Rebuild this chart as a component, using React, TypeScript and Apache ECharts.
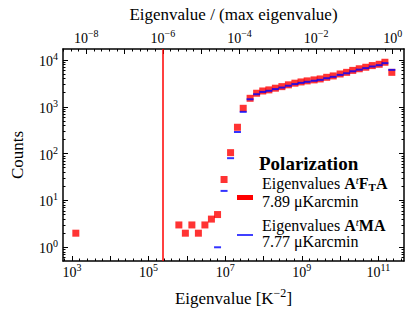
import React, { useEffect, useRef } from 'react';
import * as echarts from 'echarts';

// ---- data ----
// log10 of bin-centre eigenvalue [K^-2] and counts for A^t F_T A (red squares)
const redLog10Eigen = [3.10, 5.79, 5.96, 6.13, 6.30, 6.47, 6.64, 6.80, 6.97, 7.14, 7.32, 7.47, 7.65, 7.82, 7.98, 8.14, 8.31, 8.48, 8.65, 8.82, 8.98, 9.14, 9.32, 9.48, 9.65, 9.82, 10.00, 10.17, 10.33, 10.50, 10.67, 10.84, 11.02, 11.17, 11.35];
const redCounts = [2, 3, 2, 3, 2, 3, 4, 5, 28, 105, 366, 930, 1520, 1950, 2180, 2300, 2500, 2700, 2950, 3200, 3400, 3580, 3760, 3940, 4270, 4570, 5030, 5450, 6000, 6500, 7000, 7600, 8100, 8950, 5450];
// A^t M A (blue dashes)
const blueLog10Eigen = [6.80, 6.97, 7.14, 7.32, 7.47, 7.65, 7.82, 7.98, 8.14, 8.31, 8.48, 8.65, 8.82, 8.98, 9.14, 9.32, 9.48, 9.65, 9.82, 10.00, 10.17, 10.33, 10.50, 10.67, 10.84, 11.02, 11.17, 11.35];
const blueCounts = [1, 16, 80, 290, 780, 1450, 1860, 2080, 2200, 2390, 2580, 2820, 3060, 3250, 3420, 3600, 3770, 4080, 4370, 4810, 5210, 5740, 6220, 6700, 7270, 7750, 8560, 6150];

const maxEigenvalue = 2.36e11;
const cutoffRatio = 1e-6;

const bottomLabelExps = [3, 5, 7, 9, 11];
const topLabelExps = [-8, -6, -4, -2, 0];
const leftLabelExps = [0, 1, 2, 3, 4];

const legendTitle = 'Polarization';
const legendNoise = ['7.89 μKarcmin', '7.77 μKarcmin'];

// axis ranges (log10)
const X_MIN_EXP = 2.765;
const X_MAX_EXP = 11.668;
const Y_MIN_EXP = -0.293;
const Y_MAX_EXP = 4.235;

const SERIF = 'Liberation Serif, serif';
const AXF = 'Liberation Serif';

const pow10 = (e: number) => Math.pow(10, e);
const expStr = (e: number) => (e < 0 ? '\u2212' + -e : String(e));

function intExps(lo: number, hi: number) {
  const out: number[] = [];
  for (let e = Math.ceil(lo); e <= Math.floor(hi); e++) out.push(e);
  return out;
}
function fifthDecadeMinor(lo: number, hi: number) {
  const out: number[] = [];
  for (let k = Math.ceil(lo * 5); k <= Math.floor(hi * 5); k++) {
    if (k % 5 !== 0) out.push(pow10(k / 5));
  }
  return out;
}
function logMinor(lo: number, hi: number) {
  const out: number[] = [];
  for (let e = Math.floor(lo); e <= Math.ceil(hi); e++) {
    for (let m = 2; m <= 9; m++) {
      const v = m * pow10(e);
      if (Math.log10(v) > lo && Math.log10(v) < hi) out.push(v);
    }
  }
  return out;
}

const powRich = {
  b: { fontFamily: AXF, fontSize: 14, color: '#000', verticalAlign: 'bottom' },
  s: { fontFamily: AXF, fontSize: 10, color: '#000', verticalAlign: 'top', padding: [0, 0, 7, 0] },
};
const powFmt = (v: number) => `{b|10}{s|${expStr(Math.round(Math.log10(v)))}}`;

const lineStyle = { color: '#000', width: 1.5 };
const tickStyle = { color: '#000', width: 1 };

function makeAxis(pos: string, minE: number, maxE: number, ticks: number[], len: number, extra: any = {}) {
  return {
    type: 'log',
    logBase: 10,
    position: pos,
    min: pow10(minE),
    max: pow10(maxE),
    axisLine: { show: false, onZero: false, lineStyle },
    axisTick: { show: true, inside: true, length: len, lineStyle: tickStyle, customValues: ticks },
    axisLabel: { show: false },
    splitLine: { show: false },
    minorTick: { show: false },
    ...extra,
  };
}

function buildOption() {
  const topMin = X_MIN_EXP - Math.log10(maxEigenvalue);
  const topMax = X_MAX_EXP - Math.log10(maxEigenvalue);

  const xAxis = [
    makeAxis('bottom', X_MIN_EXP, X_MAX_EXP, intExps(X_MIN_EXP, X_MAX_EXP).map(pow10), 5, {
      axisLine: { show: true, onZero: false, lineStyle },
      axisLabel: { show: true, customValues: bottomLabelExps.map(pow10), formatter: powFmt, rich: powRich, margin: 1, fontFamily: AXF },
      name: '{n|Eigenvalue [K}{s|\u22122}{n|]}',
      nameLocation: 'middle',
      nameGap: 26,
      nameTextStyle: {
        fontFamily: AXF,
        rich: {
          n: { fontFamily: AXF, fontSize: 17, color: '#000', verticalAlign: 'bottom' },
          s: { fontFamily: AXF, fontSize: 12, color: '#000', verticalAlign: 'top', padding: [0, 0, 8, 0] },
        },
      },
    }),
    makeAxis('bottom', X_MIN_EXP, X_MAX_EXP, fifthDecadeMinor(X_MIN_EXP, X_MAX_EXP), 2.5),
    makeAxis('top', topMin, topMax, intExps(topMin, topMax).map(pow10), 5, {
      axisLine: { show: true, onZero: false, lineStyle },
      axisLabel: { show: true, customValues: topLabelExps.map(pow10), formatter: powFmt, rich: powRich, margin: 4, fontFamily: AXF },
      name: 'Eigenvalue / (max eigenvalue)',
      nameLocation: 'middle',
      nameGap: 24,
      nameTextStyle: { fontFamily: 'Times New Roman', fontSize: 17, color: '#000' },
    }),
    makeAxis('top', topMin, topMax, fifthDecadeMinor(topMin, topMax), 2.5),
  ];

  const yMajor = intExps(Y_MIN_EXP, Y_MAX_EXP).map(pow10);
  const yMinor = logMinor(Y_MIN_EXP, Y_MAX_EXP);
  const yAxis = [
    makeAxis('left', Y_MIN_EXP, Y_MAX_EXP, yMajor, 5, {
      axisLine: { show: true, onZero: false, lineStyle },
      axisLabel: { show: true, customValues: leftLabelExps.map(pow10), formatter: powFmt, rich: powRich, margin: 5, fontFamily: AXF },
      name: 'Counts',
      nameLocation: 'middle',
      nameRotate: 90,
      nameGap: 37,
      nameTextStyle: { fontFamily: AXF, fontSize: 17, color: '#000' },
    }),
    makeAxis('left', Y_MIN_EXP, Y_MAX_EXP, yMinor, 2.5),
    makeAxis('right', Y_MIN_EXP, Y_MAX_EXP, yMajor, 5, { axisLine: { show: true, onZero: false, lineStyle } }),
    makeAxis('right', Y_MIN_EXP, Y_MAX_EXP, yMinor, 2.5),
  ];

  const redData = redLog10Eigen.map((e, i) => [pow10(e), redCounts[i]]);
  const blueData = blueLog10Eigen.map((e, i) => [pow10(e), blueCounts[i]]);

  const richLegend = {
    bb: { fontFamily: SERIF, fontSize: 16, fontWeight: 'bold', fill: '#000', verticalAlign: 'middle' },
    sup: { fontFamily: SERIF, fontSize: 11, fontStyle: 'italic', fill: '#000', verticalAlign: 'top', padding: [0, 0, 7, 0] },
    sub: { fontFamily: SERIF, fontSize: 11, fontWeight: 'bold', fill: '#000', verticalAlign: 'bottom', padding: [7, 0, 0, 0] },
  };
  const txt = (x: number, y: number, text: string, extra: any = {}) => ({
    type: 'text',
    x,
    y,
    style: { text, font: `16px ${SERIF}`, fill: '#000', align: 'left', verticalAlign: 'middle', rich: richLegend, ...extra },
  });

  return {
    animation: false,
    backgroundColor: '#fff',
    textStyle: { fontFamily: AXF },
    grid: { left: 63, right: 12, top: 49, bottom: 55, containLabel: false, outerBoundsMode: 'none' },
    xAxis,
    yAxis,
    series: [
      {
        type: 'scatter',
        name: 'AtFtA',
        xAxisIndex: 0,
        yAxisIndex: 0,
        symbol: 'rect',
        symbolSize: 7,
        itemStyle: { color: '#ff0000' },
        data: redData,
        z: 2,
        markLine: {
          silent: true,
          symbol: 'none',
          label: { show: false },
          lineStyle: { color: '#ff0000', width: 1.5, type: 'solid' },
          data: [{ xAxis: maxEigenvalue * cutoffRatio }],
        },
      },
      {
        type: 'scatter',
        name: 'AtMA',
        xAxisIndex: 0,
        yAxisIndex: 0,
        symbol: 'rect',
        symbolSize: [7, 2],
        itemStyle: { color: '#0000ff' },
        data: blueData,
        z: 3,
      },
    ],
    graphic: [
      { type: 'text', x: 259, y: 163, style: { text: legendTitle, font: `bold 19px ${SERIF}`, fill: '#000', align: 'left', verticalAlign: 'middle' } },
      txt(262, 183, 'Eigenvalues {bb|A}{sup|t}{bb|F}{sub|T}{bb|A}'),
      txt(262, 201, legendNoise[0]),
      { type: 'rect', shape: { x: 237, y: 195, width: 16, height: 5 }, style: { fill: '#ff0000' } },
      txt(262, 225, 'Eigenvalues {bb|A}{sup|t}{bb|MA}'),
      txt(262, 241, legendNoise[1]),
      { type: 'line', shape: { x1: 237, y1: 235, x2: 253, y2: 235 }, style: { stroke: '#0000ff', lineWidth: 1.5 } },
    ],
  };
}

export default function App() {
  const ref = useRef<HTMLDivElement>(null);
  useEffect(() => {
    const chart = echarts.init(ref.current as HTMLDivElement, null, { renderer: 'svg' });
    chart.setOption(buildOption() as any);
    return () => chart.dispose();
  }, []);
  return <div ref={ref} style={{ position: 'fixed', left: 0, top: 0, width: 416, height: 316, background: '#fff' }} />;
}
